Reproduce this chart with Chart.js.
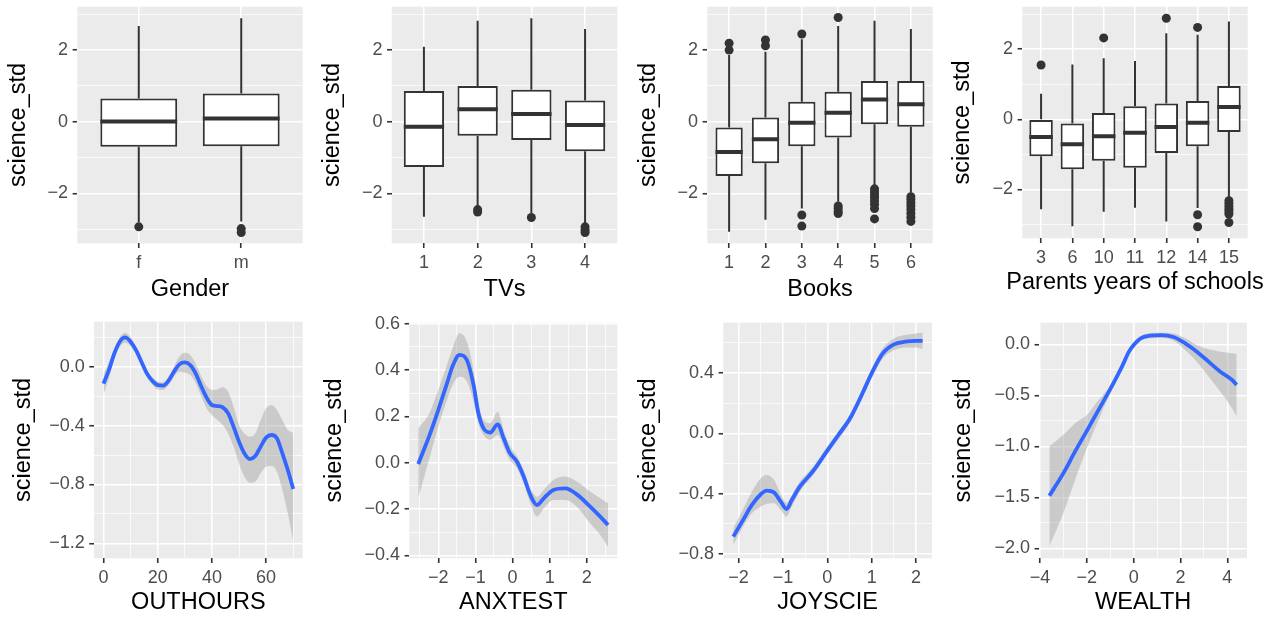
<!DOCTYPE html>
<html>
<head>
<meta charset="utf-8">
<title>science_std by student background</title>
<script src="https://cdn.jsdelivr.net/npm/chart.js@4.4.0/dist/chart.umd.min.js"></script>
<style>
  html, body { margin: 0; padding: 0; background: #fff; }
  body { width: 1270px; height: 617px; position: relative; overflow: hidden; }
  canvas { position: absolute; }
</style>
</head>
<body>
<script>
'use strict';

// --- box panels: whisker ends, quartiles, medians and outliers per group ---
const genderLabels = ['f', 'm'];
const genderLow    = [-2.80, -2.78];
const genderQ1     = [-0.70, -0.68];
const genderMedian = [0.01, 0.09];
const genderQ3     = [0.65, 0.79];
const genderHigh   = [2.67, 2.89];
const genderOut    = [[-2.93], [-2.98, -3.09]];

const tvLabels = ['1', '2', '3', '4'];
const tvLow    = [-2.65, -2.38, -2.55, -2.85];
const tvQ1     = [-1.26, -0.39, -0.51, -0.82];
const tvMedian = [-0.14, 0.35, 0.22, -0.09];
const tvQ3     = [0.86, 1.00, 0.89, 0.59];
const tvHigh   = [2.09, 2.82, 2.89, 2.59];
const tvOut    = [[], [-2.45, -2.52], [-2.67], [-2.93, -3.02, -3.09]];

const booksLabels = ['1', '2', '3', '4', '5', '6'];
const booksLow    = [-3.07, -2.73, -2.42, -2.23, -1.81, -1.98];
const booksQ1     = [-1.51, -1.16, -0.68, -0.44, -0.07, -0.14];
const booksMedian = [-0.84, -0.49, -0.03, 0.25, 0.62, 0.49];
const booksQ3     = [-0.16, 0.12, 0.56, 0.84, 1.14, 1.14];
const booksHigh   = [1.86, 1.95, 2.30, 2.67, 2.82, 2.59];
const booksOut    = [
  [2.00, 2.19],
  [2.12, 2.28],
  [2.45, -2.60, -2.91],
  [2.91, -2.35, -2.42, -2.50, -2.56],
  [-1.87, -1.95, -2.03, -2.11, -2.20, -2.30, -2.42, -2.71],
  [-2.09, -2.17, -2.26, -2.35, -2.45, -2.55, -2.66, -2.78]
];

const parentsLabels = ['3', '6', '10', '11', '12', '14', '15'];
const parentsLow    = [-2.56, -3.05, -2.63, -2.52, -2.91, -2.53, -2.25];
const parentsQ1     = [-1.05, -1.42, -1.18, -1.38, -0.96, -0.77, -0.36];
const parentsMedian = [-0.50, -0.71, -0.48, -0.38, -0.22, -0.10, 0.35];
const parentsQ3     = [0.00, -0.12, 0.18, 0.37, 0.45, 0.52, 0.95];
const parentsHigh   = [0.73, 1.56, 1.74, 1.66, 2.45, 2.41, 2.79];
const parentsOut    = [
  [1.55], [], [2.32], [], [2.88],
  [2.62, -2.72, -3.06],
  [-2.32, -2.40, -2.48, -2.56, -2.63, -2.70, -2.94]
];

const boxYMajor = [-2, 0, 2];
const boxYMinor = [-3, -1, 1, 3];

// --- smoother panels: fitted curve with its confidence band ---
const outhoursX     = [0, 2, 4, 6, 8, 10, 12, 14, 16, 18, 20, 22, 24, 26, 28, 30, 32, 34, 36, 38, 40, 42, 44, 46, 48, 50, 52, 54, 56, 58, 60, 62, 64, 66, 68, 70];
const outhoursFit   = [-0.115, -0.023, 0.09, 0.17, 0.199, 0.17, 0.113, 0.034, -0.045, -0.095, -0.125, -0.128, -0.095, -0.034, 0.016, 0.029, 0.011, -0.045, -0.131, -0.208, -0.26, -0.267, -0.276, -0.317, -0.408, -0.509, -0.589, -0.627, -0.607, -0.543, -0.482, -0.464, -0.487, -0.589, -0.702, -0.831];
const outhoursUpper = [-0.05, 0.03, 0.118, 0.2, 0.231, 0.2, 0.136, 0.055, -0.023, -0.07, -0.1, -0.105, -0.068, 0.0, 0.068, 0.095, 0.079, 0.02, -0.063, -0.13, -0.158, -0.154, -0.14, -0.17, -0.272, -0.396, -0.453, -0.475, -0.453, -0.362, -0.283, -0.26, -0.294, -0.362, -0.43, -0.448];
const outhoursLower = [-0.19, -0.08, 0.057, 0.135, 0.163, 0.14, 0.086, 0.01, -0.072, -0.12, -0.155, -0.158, -0.125, -0.07, -0.034, -0.041, -0.057, -0.11, -0.199, -0.28, -0.328, -0.362, -0.396, -0.453, -0.543, -0.657, -0.747, -0.788, -0.781, -0.724, -0.679, -0.675, -0.713, -0.838, -0.996, -1.189];
const outhoursXMajor = [0, 20, 40, 60];
const outhoursXMinor = [10, 30, 50, 70];
const outhoursYMajor = [-1.2, -0.8, -0.4, 0];
const outhoursYMinor = [-1.0, -0.6, -0.2, 0.2];

const anxX     = [-2.54, -2.25, -2.0, -1.75, -1.6, -1.43, -1.23, -1.05, -0.92, -0.78, -0.6, -0.4, -0.24, -0.08, 0.12, 0.3, 0.48, 0.66, 0.84, 1.1, 1.42, 1.73, 2.09, 2.36, 2.57];
const anxFit   = [-0.006, 0.112, 0.227, 0.35, 0.422, 0.465, 0.443, 0.335, 0.213, 0.148, 0.13, 0.165, 0.105, 0.043, 0.004, -0.06, -0.14, -0.183, -0.154, -0.118, -0.111, -0.137, -0.19, -0.233, -0.269];
const anxUpper = [0.148, 0.21, 0.314, 0.429, 0.5, 0.558, 0.522, 0.4, 0.26, 0.184, 0.17, 0.22, 0.141, 0.076, 0.026, -0.032, -0.111, -0.147, -0.118, -0.075, -0.06, -0.082, -0.125, -0.154, -0.176];
const anxLower = [-0.154, 0.012, 0.155, 0.278, 0.34, 0.371, 0.35, 0.263, 0.17, 0.119, 0.098, 0.119, 0.069, 0.012, -0.024, -0.089, -0.176, -0.233, -0.197, -0.161, -0.161, -0.19, -0.262, -0.312, -0.363];
const anxXMajor = [-2, -1, 0, 1, 2];
const anxXMinor = [-2.5, -1.5, -0.5, 0.5, 1.5, 2.5];
const anxYMajor = [-0.4, -0.2, 0, 0.2, 0.4, 0.6];
const anxYMinor = [-0.3, -0.1, 0.1, 0.3, 0.5];

const joyX     = [-2.12, -1.9, -1.7, -1.5, -1.37, -1.2, -1.05, -0.92, -0.8, -0.62, -0.32, 0, 0.25, 0.5, 0.75, 1.0, 1.25, 1.5, 1.75, 2.0, 2.15];
const joyFit   = [-0.685, -0.575, -0.475, -0.404, -0.38, -0.393, -0.453, -0.502, -0.442, -0.354, -0.25, -0.115, -0.011, 0.093, 0.239, 0.398, 0.53, 0.59, 0.608, 0.614, 0.614];
const joyUpper = [-0.63, -0.504, -0.387, -0.298, -0.276, -0.309, -0.402, -0.46, -0.409, -0.32, -0.221, -0.088, 0.015, 0.119, 0.265, 0.431, 0.564, 0.63, 0.652, 0.663, 0.667];
const joyLower = [-0.74, -0.619, -0.53, -0.486, -0.469, -0.464, -0.508, -0.552, -0.486, -0.387, -0.276, -0.139, -0.04, 0.066, 0.21, 0.365, 0.497, 0.552, 0.57, 0.57, 0.559];
const joyXMajor = [-2, -1, 0, 1, 2];
const joyXMinor = [-1.5, -0.5, 0.5, 1.5];
const joyYMajor = [-0.8, -0.4, 0, 0.4];
const joyYMinor = [-0.6, -0.2, 0.2, 0.6];

const wealthX     = [-3.6, -3, -2.5, -2, -1.5, -1, -0.5, -0.2, 0, 0.3, 0.7, 1.2, 1.7, 2.2, 2.7, 3.2, 3.7, 4.2, 4.4];
const wealthFit   = [-1.485, -1.263, -1.05, -0.848, -0.643, -0.44, -0.219, -0.072, -0.007, 0.059, 0.085, 0.091, 0.072, 0.01, -0.072, -0.17, -0.268, -0.349, -0.398];
const wealthUpper = [-1.0, -0.887, -0.773, -0.692, -0.545, -0.408, -0.202, -0.06, 0.016, 0.08, 0.11, 0.114, 0.105, 0.059, -0.007, -0.049, -0.072, -0.088, -0.095];
const wealthLower = [-1.98, -1.654, -1.328, -1.018, -0.741, -0.48, -0.251, -0.09, -0.029, 0.04, 0.06, 0.062, 0.036, -0.055, -0.17, -0.316, -0.463, -0.626, -0.708];
const wealthXMajor = [-4, -2, 0, 2, 4];
const wealthXMinor = [-3, -1, 1, 3];
const wealthYMajor = [-2, -1.5, -1, -0.5, 0];
const wealthYMinor = [-1.75, -1.25, -0.75, -0.25];

// --- look ---
const FONT = "'Liberation Sans', Arial, Helvetica, sans-serif";
const TICK_SIZE = 18;
const TITLE_SIZE = 23.5;
const INK = '#333333';
const TICK_INK = '#4D4D4D';
const PANEL_BG = '#EBEBEB';
const BAND = 'rgba(153, 153, 153, 0.4)';
const FIT_BLUE = '#3366FF';
const BOX_WIDTH = 0.75;

const near = (list, v) => list.some(m => Math.abs(m - v) < 1e-9);
const signed = (v, digits) => (v < -1e-9 ? '\u2212' : '') + Math.abs(v).toFixed(digits);

// grey panel behind the grid
const panelBg = {
    id: 'panelBg',
    beforeDraw(chart) {
        const { ctx, chartArea: a } = chart;
        ctx.save();
        ctx.fillStyle = PANEL_BG;
        ctx.fillRect(a.left, a.top, a.right - a.left, a.bottom - a.top);
        ctx.restore();
    }
};

// x axis caption, drawn free so long captions run past the panel
const xCaption = {
    id: 'xCaption',
    afterDraw(chart, args, opts) {
        const { ctx, chartArea: a } = chart;
        ctx.save();
        ctx.font = `${TITLE_SIZE}px ${FONT}`;
        ctx.fillStyle = '#000';
        ctx.textAlign = 'center';
        ctx.textBaseline = 'middle';
        ctx.fillText(opts.text, (a.left + a.right) / 2, opts.y);
        ctx.restore();
    }
};

function axis(min, max, major, minor, fmt, fixSize) {
    return {
        type: 'linear', min, max, bounds: 'data', offset: false,
        afterBuildTicks: s => {
            s.ticks = major.concat(minor).sort((a, b) => a - b).map(v => ({ value: v }));
        },
        afterFit: fixSize,
        ticks: {
            autoSkip: false, maxRotation: 0, minRotation: 0, padding: 4.5,
            color: TICK_INK, font: { family: FONT, size: TICK_SIZE },
            callback: v => near(minor, v) ? '' : fmt(v)
        },
        grid: {
            offset: false, drawOnChartArea: true,
            color: '#FFFFFF',
            lineWidth: c => (c.tick && near(minor, c.tick.value)) ? 0.75 : 1.5,
            drawTicks: true, tickLength: 4.7, tickWidth: 1.6,
            tickColor: c => (c.tick && near(minor, c.tick.value)) ? 'rgba(0,0,0,0)' : INK
        },
        border: { display: false }
    };
}

function boxDatasets(low, q1, median, q3, high, out) {
    const pos = q1.map((_, i) => i + 1);
    const half = BOX_WIDTH / 2;
    const whiskers = [], medians = [], points = [];
    pos.forEach((p, i) => {
        whiskers.push({ x: p, y: q3[i] }, { x: p, y: high[i] }, { x: p, y: null },
                      { x: p, y: q1[i] }, { x: p, y: low[i] }, { x: p, y: null });
        medians.push({ x: p - half, y: median[i] }, { x: p + half, y: median[i] }, { x: p, y: null });
        out[i].forEach(v => points.push({ x: p, y: v }));
    });
    return [
        { type: 'line', data: whiskers, borderColor: INK, borderWidth: 2, pointRadius: 0, spanGaps: false, order: 4 },
        { type: 'bar', data: pos.map((p, i) => ({ x: p, y: [q1[i], q3[i]] })),
          backgroundColor: '#FFFFFF', borderColor: INK, borderWidth: 2, borderSkipped: false,
          barPercentage: BOX_WIDTH, categoryPercentage: 1, order: 3 },
        { type: 'scatter', data: points, pointRadius: 4.5, pointBackgroundColor: INK,
          pointBorderColor: INK, pointBorderWidth: 0, order: 2 },
        { type: 'line', data: medians, borderColor: INK, borderWidth: 4, pointRadius: 0, spanGaps: false, order: 1 }
    ];
}

function smoothDatasets(xs, fit, upper, lower) {
    const pts = ys => xs.map((x, i) => ({ x, y: ys[i] }));
    const curve = { type: 'line', pointRadius: 0, cubicInterpolationMode: 'monotone' };
    return [
        { ...curve, data: pts(lower), borderColor: 'rgba(0,0,0,0)', borderWidth: 0, fill: false, order: 2 },
        { ...curve, data: pts(upper), borderColor: 'rgba(0,0,0,0)', borderWidth: 0, fill: '-1', backgroundColor: BAND, order: 2 },
        { ...curve, data: pts(fit), borderColor: FIT_BLUE, borderWidth: 3.8, fill: false, order: 1 }
    ];
}

// one canvas per panel; area = plot rectangle on the page
function drawPanel(frame, datasets, xScale, yScale, caption) {
    const [l, t, r, b] = frame.area;
    const left = Math.round(frame.yTitle - TITLE_SIZE * 0.6);
    const right = frame.edge || Math.round(r + 10);
    const canvas = document.createElement('canvas');
    canvas.width = right - left;
    canvas.height = frame.bottom - frame.top;
    canvas.style.left = left + 'px';
    canvas.style.top = frame.top + 'px';
    document.body.appendChild(canvas);

    const x = xScale(s => { s.height = frame.bottom - b; s.paddingLeft = 0; s.paddingRight = 0; });
    const y = yScale(s => { s.width = l - left; s.paddingTop = 0; s.paddingBottom = 0; });
    y.title = { display: true, text: 'science_std', color: '#000', padding: 0, font: { family: FONT, size: TITLE_SIZE } };

    return new Chart(canvas, {
        type: 'line',
        data: { datasets },
        options: {
            responsive: false, animation: false, devicePixelRatio: 1, events: [],
            layout: { autoPadding: false, padding: { left: 0, bottom: 0, top: t - frame.top, right: right - r } },
            plugins: {
                legend: { display: false }, tooltip: { enabled: false },
                xCaption: { text: caption, y: frame.xTitle - frame.top }
            },
            scales: { x, y }
        },
        plugins: [panelBg, xCaption]
    });
}

const boxY = fix => axis(-3.39, 3.21, boxYMajor, boxYMinor, v => signed(v, 0), fix);
const boxX = labels => fix => axis(0.4, labels.length + 0.6, labels.map((_, i) => i + 1), [], v => labels[Math.round(v) - 1], fix);

drawPanel({ area: [77.3, 6.7, 302.7, 243.3], yTitle: 18.5, xTitle: 290, top: 0, bottom: 306 },
    boxDatasets(genderLow, genderQ1, genderMedian, genderQ3, genderHigh, genderOut),
    boxX(genderLabels), boxY, 'Gender');

drawPanel({ area: [391.7, 6.7, 617.3, 243.3], yTitle: 332, xTitle: 290, top: 0, bottom: 306 },
    boxDatasets(tvLow, tvQ1, tvMedian, tvQ3, tvHigh, tvOut),
    boxX(tvLabels), boxY, 'TVs');

drawPanel({ area: [707.3, 6.7, 932.7, 243.3], yTitle: 648, xTitle: 290, top: 0, bottom: 306 },
    boxDatasets(booksLow, booksQ1, booksMedian, booksQ3, booksHigh, booksOut),
    boxX(booksLabels), boxY, 'Books');

drawPanel({ area: [1022.3, 6.7, 1247.7, 238.3], yTitle: 962, xTitle: 282.5, top: 0, bottom: 306, edge: 1270 },
    boxDatasets(parentsLow, parentsQ1, parentsMedian, parentsQ3, parentsHigh, parentsOut),
    boxX(parentsLabels), boxY, 'Parents years of schools');

drawPanel({ area: [94, 321.7, 302.7, 558.3], yTitle: 23.5, xTitle: 603, top: 308, bottom: 617 },
    smoothDatasets(outhoursX, outhoursFit, outhoursUpper, outhoursLower),
    fix => axis(-3.5, 73.5, outhoursXMajor, outhoursXMinor, v => signed(v, 0), fix),
    fix => axis(-1.302, 0.306, outhoursYMajor, outhoursYMinor, v => signed(v, 1), fix),
    'OUTHOURS');

drawPanel({ area: [409.3, 322.7, 617.3, 558.3], yTitle: 334, xTitle: 603, top: 308, bottom: 617 },
    smoothDatasets(anxX, anxFit, anxUpper, anxLower),
    fix => axis(-2.78, 2.82, anxXMajor, anxXMinor, v => signed(v, 0), fix),
    fix => axis(-0.413, 0.604, anxYMajor, anxYMinor, v => signed(v, 1), fix),
    'ANXTEST');

drawPanel({ area: [723.3, 322.7, 932, 558.3], yTitle: 648.5, xTitle: 603, top: 308, bottom: 617 },
    smoothDatasets(joyX, joyFit, joyUpper, joyLower),
    fix => axis(-2.345, 2.36, joyXMajor, joyXMinor, v => signed(v, 0), fix),
    fix => axis(-0.829, 0.734, joyYMajor, joyYMinor, v => signed(v, 1), fix),
    'JOYSCIE');

drawPanel({ area: [1039.3, 322.7, 1247, 558.3], yTitle: 963.5, xTitle: 603, top: 308, bottom: 617, edge: 1270 },
    smoothDatasets(wealthX, wealthFit, wealthUpper, wealthLower),
    fix => axis(-4.03, 4.84, wealthXMajor, wealthXMinor, v => signed(v, 0), fix),
    fix => axis(-2.098, 0.212, wealthYMajor, wealthYMinor, v => signed(v, 1), fix),
    'WEALTH');
</script>
</body>
</html>
